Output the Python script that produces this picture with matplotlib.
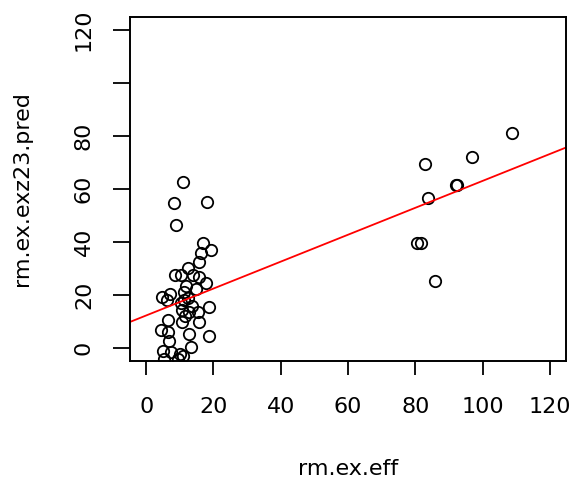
import matplotlib
matplotlib.use("Agg")
import matplotlib.pyplot as plt

# observed effect vs. predicted (rm.ex data)
eff = [108.8, 96.9, 83.0, 92.0, 92.3, 83.8, 80.6, 81.7, 85.8,
       11.1, 8.3, 18.1, 9.0, 16.8, 19.2, 16.3, 15.6, 12.3, 8.7, 10.4,
       13.8, 15.8, 17.8, 11.9, 14.9, 11.3, 7.1, 4.6, 6.2, 11.3,
       10.5, 12.5, 13.5, 10.8, 12.8, 15.3, 18.8, 11.5,
       6.4, 10.8, 15.8, 4.4, 6.4, 12.8, 18.8, 6.9, 13.3,
       5.0, 7.5, 10.0, 5.2, 9.5, 11.1]
pred = [81.2, 72.1, 69.4, 61.6, 61.4, 56.5, 39.7, 39.7, 25.5,
        62.8, 54.7, 55.0, 46.6, 39.8, 36.9, 35.8, 32.4, 30.1, 27.6, 27.6,
        27.6, 27.0, 24.4, 23.6, 22.4, 21.3, 20.5, 19.2, 18.0, 18.1,
        17.0, 18.8, 16.0, 14.3, 13.7, 13.7, 15.6, 12.0,
        10.5, 9.9, 9.9, 6.7, 6.3, 5.4, 4.8, 2.8, 0.4,
        -1.2, -1.5, -2.0, -3.9, -3.9, -2.9]

# regression line coefficients (intercept, slope)
fit_coef = [12.35, 0.507]

x_ticks = [0, 20, 40, 60, 80, 100, 120]
y_ticks = [0, 20, 40, 60, 80, 100, 120]
y_tick_labels = ["0", "20", "40", "60", "80", "", "120"]

plt.rcParams["font.family"] = "DejaVu Sans"
fig = plt.figure(figsize=(5.74, 4.83), dpi=100)
ax = fig.add_axes([130 / 574, 1 - 361 / 483, 436 / 574, 344 / 483])

ax.plot(eff, pred, "o", mfc="none", mec="black", ms=8.2, mew=1.3)
ax.axline((0, fit_coef[0]), slope=fit_coef[1], color="red", lw=1.3)

ax.set_xlim(-4.8, 124.8)
ax.set_ylim(-4.8, 124.8)
ax.set_xticks(x_ticks)
ax.set_yticks(y_ticks)
ax.set_yticklabels(y_tick_labels)
for s in ax.spines.values():
    s.set_linewidth(1.4)
ax.tick_params(width=1.3, labelsize=16)
ax.tick_params(axis="x", length=10, pad=16)
ax.tick_params(axis="y", length=12, pad=14, labelrotation=90)
for lab in ax.get_yticklabels():
    lab.set_va("center")

ax.set_xlabel("rm.ex.eff", fontsize=16)
ax.xaxis.set_label_coords(0.5, (361 - 469) / 344)
ax.xaxis.label.set_va("center")
ax.set_ylabel("rm.ex.exz23.pred", fontsize=16)
ax.yaxis.set_label_coords((22 - 130) / 436, 0.5)
ax.yaxis.label.set_va("center")

fig.savefig("out.png", dpi=100)
